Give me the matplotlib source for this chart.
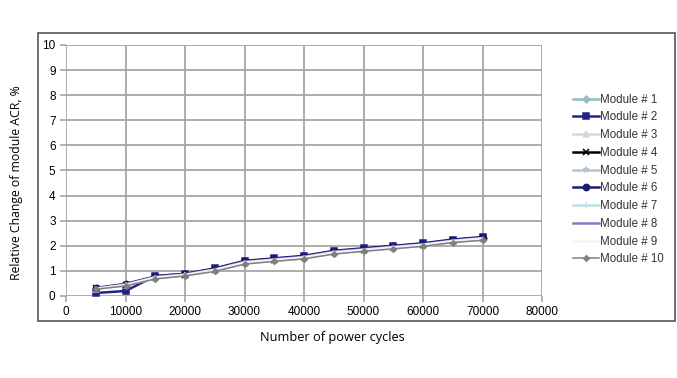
import matplotlib.pyplot as plt
from matplotlib.patches import Rectangle

# 横軸: パワーサイクル数
cycles = [5000, 10000, 15000, 20000, 25000, 30000, 35000,
          40000, 45000, 50000, 55000, 60000, 65000, 70000]

# 各モジュールの ACR 相対変化 (%)
module_1 = [0.30, 0.45, 0.75, 0.85, 1.05, 1.35, 1.45, 1.55, 1.75, 1.85, 1.95, 2.05, 2.20, 2.30]
module_2 = [0.12, 0.20, 0.80, 0.88, 1.10, 1.40, 1.50, 1.60, 1.80, 1.90, 2.00, 2.10, 2.25, 2.35]
module_3 = [0.28, 0.42, 0.72, 0.82, 1.02, 1.30, 1.42, 1.52, 1.72, 1.82, 1.92, 2.02, 2.17, 2.27]
module_4 = [0.30, 0.45, 0.75, 0.85, 1.05, 1.35, 1.45, 1.55, 1.75, 1.85, 1.95, 2.05, 2.20, 2.30]
module_5 = [0.30, 0.45, 0.72, 0.84, 1.02, 1.32, 1.43, 1.53, 1.73, 1.83, 1.93, 2.03, 2.18, 2.28]
module_6 = [0.32, 0.48, 0.78, 0.88, 1.08, 1.38, 1.48, 1.58, 1.78, 1.88, 1.98, 2.08, 2.23, 2.33]
module_7 = [0.28, 0.43, 0.70, 0.82, 1.00, 1.30, 1.40, 1.50, 1.70, 1.80, 1.90, 2.00, 2.15, 2.25]
module_8 = [0.30, 0.46, 0.76, 0.86, 1.06, 1.36, 1.46, 1.56, 1.76, 1.86, 1.96, 2.06, 2.21, 2.31]
module_9 = [0.29, 0.44, 0.74, 0.84, 1.04, 1.34, 1.44, 1.54, 1.74, 1.84, 1.94, 2.04, 2.19, 2.29]
module_10 = [0.27, 0.40, 0.68, 0.80, 0.98, 1.27, 1.38, 1.48, 1.67, 1.78, 1.88, 1.98, 2.13, 2.22]

labels = [f"Module # {i}" for i in range(1, 11)]
series = [module_1, module_2, module_3, module_4, module_5,
          module_6, module_7, module_8, module_9, module_10]

# 線スタイル (色, マーカー, 線幅, マーカーサイズ)
styles = [
    ("#93bfc0", "D", 1.8, 3.5),
    ("#22228a", "s", 1.8, 4.5),
    ("#d9d9d9", "^", 1.8, 4),
    ("#000000", "x", 1.8, 4),
    ("#b3c6cf", "*", 1.8, 4),
    ("#1c1c70", "o", 1.8, 4.5),
    ("#bfe0e3", "|", 1.8, 5),
    ("#7c7cbe", "", 1.8, 0),
    ("#f4f4f4", "", 1.8, 0),
    ("#7f7f7f", "D", 1.1, 2.8),
]

fig = plt.figure(figsize=(6.77, 3.78), dpi=100)

# 外枠
fig.patches.append(Rectangle((38 / 677, 1 - 321 / 378), (675 - 38) / 677,
                             (321 - 33) / 378, transform=fig.transFigure,
                             fill=False, edgecolor="#555555", linewidth=1.2))

ax = fig.add_axes([66 / 677, 1 - 296 / 378, (542 - 66) / 677, (296 - 45) / 378])

for ys, lab, (c, m, lw, ms) in zip(series, labels, styles):
    ax.plot(cycles, ys, color=c, marker=m, linewidth=lw, markersize=ms,
            markeredgewidth=1.1, label=lab, zorder=3)

ax.set_xlim(0, 80000)
ax.set_ylim(0, 10)
ax.set_xticks(range(0, 80001, 10000))
ax.set_yticks(range(0, 11))
ax.grid(True, color="#a6a6a6", linewidth=1.3)
ax.set_axisbelow(True)
for s in ax.spines.values():
    s.set_visible(False)
ax.tick_params(axis="both", colors="#a6a6a6", labelcolor="black",
               labelsize=8.5, length=4, width=1.2)
for t in ax.get_xticklabels() + ax.get_yticklabels():
    t.set_family("Liberation Sans")

fig.text(332 / 677, 1 - 338 / 378, "Number of power cycles", ha="center",
         va="center", fontsize=9.2, family="Open Sans")
fig.text(17 / 677, 1 - 183 / 378, "Relative Change of module ACR, %",
         ha="center", va="center", rotation=90, fontsize=8.8, family="Open Sans")

leg = ax.legend(loc="upper left", bbox_to_anchor=(568 / 677, 1 - 89 / 378),
                bbox_transform=fig.transFigure, frameon=False,
                prop={"family": "Liberation Sans", "size": 8.3},
                handlelength=2.3, handletextpad=0.1, labelspacing=0.5,
                borderaxespad=0)
for t in leg.get_texts():
    t.set_color("#333333")

fig.savefig("out.png", dpi=100)
